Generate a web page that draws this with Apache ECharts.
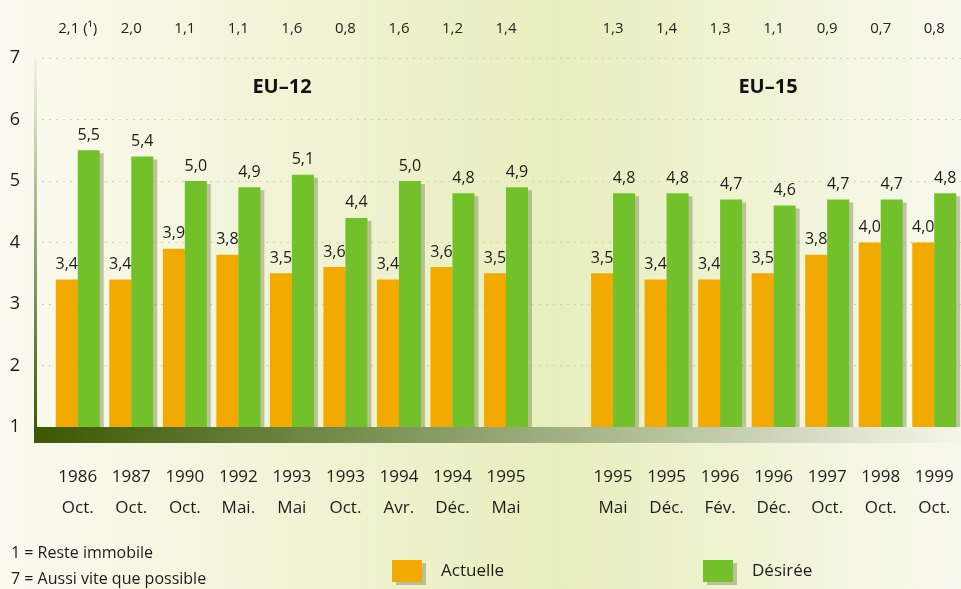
<!DOCTYPE html>
<html>
<head>
<meta charset="utf-8">
<script src="https://cdn.jsdelivr.net/npm/echarts@6/dist/echarts.min.js"></script>
<style>
  html, body { margin: 0; padding: 0; }
  #chart { width: 961px; height: 589px; }
</style>
</head>
<body>
<div id="chart"></div>
<script>
// categories (slot 9 is the empty gap between EU-12 and EU-15)
const years = ['1986', '1987', '1990', '1992', '1993', '1993', '1994', '1994', '1995', '',
  '1995', '1995', '1996', '1996', '1997', '1998', '1999'];
const months = ['Oct.', 'Oct.', 'Oct.', 'Mai.', 'Mai', 'Oct.', 'Avr.', 'Déc.', 'Mai', '',
  'Mai', 'Déc.', 'Fév.', 'Déc.', 'Oct.', 'Oct.', 'Oct.'];
// écart Désirée - Actuelle, shown above the plot
const gapLabels = ['2,1 (¹)', '2,0', '1,1', '1,1', '1,6', '0,8', '1,6', '1,2', '1,4', '',
  '1,3', '1,4', '1,3', '1,1', '0,9', '0,7', '0,8'];

const actuelle = [3.4, 3.4, 3.9, 3.8, 3.5, 3.6, 3.4, 3.6, 3.5, null,
  3.5, 3.4, 3.4, 3.5, 3.8, 4.0, 4.0];
const desiree = [5.5, 5.4, 5.0, 4.9, 5.1, 4.4, 5.0, 4.8, 4.9, null,
  4.8, 4.8, 4.7, 4.6, 4.7, 4.7, 4.8];

const yTicks = [1, 2, 3, 4, 5, 6, 7];

const font = '"Open Sans", "DejaVu Sans", sans-serif';
const ORANGE = '#f2aa00';
const GREEN = '#72c12b';

const catLabels = years.map((y, i) => y + '\n' + months[i]);

const fmt = p => p.value == null ? '' : p.value.toFixed(1).replace('.', ',');

const myChart = echarts.init(document.getElementById('chart'));

const legendCommon = {
  top: 555, itemWidth: 30, itemHeight: 22, itemGap: 0, icon: 'rect',
  itemStyle: { shadowColor: 'rgba(110,120,60,0.4)', shadowOffsetX: 4, shadowOffsetY: 3 },
  textStyle: { fontSize: 17, color: '#1c1c1c', fontFamily: font, padding: [0, 0, 0, 14] }
};

const option = {
  animation: false,
  backgroundColor: {
    type: 'linear', x: 0, y: 0, x2: 1, y2: 0,
    colorStops: [
      { offset: 0, color: '#fafaf0' },
      { offset: 0.58, color: '#e7eebd' },
      { offset: 1, color: '#f8f9ee' }
    ]
  },
  textStyle: { fontFamily: font },
  grid: [
    // bars
    { left: 51, width: 911, top: 58, bottom: 162 },
    // y scale + gridlines
    { left: 35, right: 0, top: 58, bottom: 162 }
  ],
  xAxis: [
    {
      type: 'category', gridIndex: 0, data: catLabels,
      axisLine: { show: false }, axisTick: { show: false },
      axisLabel: {
        interval: 0, margin: 35, fontSize: 17, lineHeight: 31,
        color: '#1c1c1c', fontFamily: font
      }
    },
    {
      type: 'category', gridIndex: 0, position: 'top', data: gapLabels,
      axisLine: { show: false }, axisTick: { show: false },
      axisLabel: { interval: 0, margin: 22, fontSize: 15, color: '#222', fontFamily: font }
    },
    { type: 'category', gridIndex: 1, data: catLabels, show: false }
  ],
  yAxis: [
    { type: 'value', gridIndex: 0, min: 1, max: 7, interval: 1, show: false },
    {
      type: 'value', gridIndex: 1, min: 1, max: 7, interval: 1,
      axisLine: { show: false }, axisTick: { show: false },
      axisLabel: {
        margin: 15, fontSize: 18, color: '#1a1a1a', fontFamily: font,
        formatter: v => yTicks.includes(v) ? String(v) : ''
      },
      splitLine: { lineStyle: { color: '#cfd6a6', type: [2, 5], width: 1.2 } }
    }
  ],
  legend: [
    Object.assign({ data: ['Actuelle'], left: 387 }, legendCommon),
    Object.assign({ data: ['Désirée'], left: 698 }, legendCommon)
  ],
  series: [
    {
      name: 'Actuelle', type: 'bar', xAxisIndex: 0, yAxisIndex: 0,
      data: actuelle, barWidth: 22, barGap: '0%',
      itemStyle: {
        color: ORANGE, shadowColor: 'rgba(110,120,60,0.35)', shadowOffsetX: 4, shadowOffsetY: 3
      },
      label: {
        show: true, position: 'top', distance: 7, fontSize: 16, color: '#1c1c1c',
        fontFamily: font, formatter: fmt
      }
    },
    {
      name: 'Désirée', type: 'bar', xAxisIndex: 0, yAxisIndex: 0,
      data: desiree, barWidth: 22, barGap: '0%',
      itemStyle: {
        color: GREEN, shadowColor: 'rgba(110,120,60,0.4)', shadowOffsetX: 4, shadowOffsetY: 3
      },
      label: {
        show: true, position: 'top', distance: 7, fontSize: 16, color: '#1c1c1c',
        fontFamily: font, formatter: fmt
      }
    }
  ],
  graphic: [
    // vertical axis bar
    {
      type: 'rect', left: 34, top: 58, z: 10,
      shape: { width: 3, height: 372 },
      style: {
        fill: {
          type: 'linear', x: 0, y: 0, x2: 0, y2: 1,
          colorStops: [
            { offset: 0, color: '#f2f4e4' },
            { offset: 1, color: '#3d5a06' }
          ]
        }
      }
    },
    // bottom band
    {
      type: 'rect', left: 34, top: 427, z: 10,
      shape: { width: 930, height: 16 },
      style: {
        fill: {
          type: 'linear', x: 0, y: 0, x2: 1, y2: 0,
          colorStops: [
            { offset: 0, color: '#3c5802' },
            { offset: 0.45, color: '#8a9e68' },
            { offset: 1, color: '#f5f6ea' }
          ]
        }
      }
    },
    {
      type: 'text', x: 282, y: 87, z: 10,
      style: {
        text: 'EU–12', font: 'bold 20px ' + font, fill: '#111',
        textAlign: 'center', textVerticalAlign: 'middle'
      }
    },
    {
      type: 'text', x: 768, y: 87, z: 10,
      style: {
        text: 'EU–15', font: 'bold 20px ' + font, fill: '#111',
        textAlign: 'center', textVerticalAlign: 'middle'
      }
    },
    {
      type: 'text', x: 11, y: 553, z: 10,
      style: {
        text: '1 = Reste immobile', font: '16px ' + font, fill: '#1c1c1c',
        textVerticalAlign: 'middle'
      }
    },
    {
      type: 'text', x: 11, y: 579, z: 10,
      style: {
        text: '7 = Aussi vite que possible', font: '16px ' + font, fill: '#1c1c1c',
        textVerticalAlign: 'middle'
      }
    }
  ]
};

myChart.setOption(option);
</script>
</body>
</html>
